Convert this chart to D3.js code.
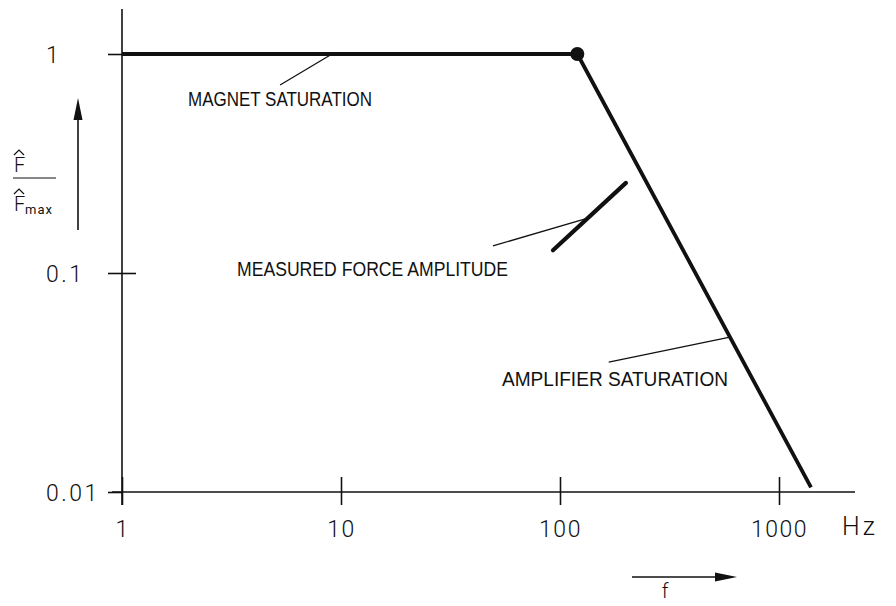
<!DOCTYPE html>
<html>
<head>
<meta charset="utf-8">
<script src="https://cdn.jsdelivr.net/npm/d3@7"></script>
<style>
  body { margin: 0; background: #fff; }
  svg { display: block; }
</style>
</head>
<body>
<svg id="chart" width="896" height="606"></svg>
<script>
// ---- data -------------------------------------------------------------
const freqTicks = [1, 10, 100, 1000];
const freqTickLabels = ["1", "10", "100", "1000"];
const forceTicks = [1, 0.1, 0.01];
const forceTickLabels = ["1", "0.1", "0.01"];

// force limit: magnet saturation plateau, then amplifier saturation roll-off
const limitFreq = [1, 120, 1400];
const limitForce = [1, 1, 0.0105];

// corner of the limit curve
const cornerFreq = [120];
const cornerForce = [1];

// measured force amplitude
const measuredFreq = [92.9, 200];
const measuredForce = [0.127, 0.258];

// annotation texts and the points their leader lines join (frequency, force)
const noteTexts = ["MAGNET SATURATION", "MEASURED FORCE AMPLITUDE", "AMPLIFIER SATURATION"];
const noteLeaderFreq = [[9.1, 5.27], [134, 49.4], [597, 167]];
const noteLeaderForce = [[1, 0.722], [0.178, 0.133], [0.051, 0.0392]];

// ---- layout -----------------------------------------------------------
const svg = d3.select("#chart");
const ink = "#111";

const x = d3.scaleLog().domain([1, 1000]).range([122, 779]);
const y = d3.scaleLog().domain([0.01, 1]).range([492, 54]);

const noteLayout = [
  { x: 188, y: 106, w: 184 },
  { x: 237, y: 276, w: 271 },
  { x: 502, y: 386, w: 226 }
];

const digitFont = "Roboto, 'DejaVu Sans', sans-serif";
const labelFont = "'Liberation Sans', Arial, sans-serif";

// ---- axes -------------------------------------------------------------
// axis lines
svg.append("line")
  .attr("x1", 112).attr("x2", 855)
  .attr("y1", y(0.01)).attr("y2", y(0.01))
  .attr("stroke", ink).attr("stroke-width", 1.6);
svg.append("line")
  .attr("x1", x(1)).attr("x2", x(1))
  .attr("y1", 9).attr("y2", 505)
  .attr("stroke", ink).attr("stroke-width", 1.6);

// x axis ticks crossing the axis line
const xAxis = d3.axisBottom(x)
  .tickValues(freqTicks)
  .tickSize(13)
  .tickFormat((d, i) => freqTickLabels[i]);
const gx = svg.append("g")
  .attr("transform", `translate(0,${y(0.01)})`)
  .call(xAxis);
gx.select(".domain").remove();
gx.selectAll(".tick line")
  .attr("y1", -15).attr("y2", 13)
  .attr("stroke", ink).attr("stroke-width", 1.6);
gx.selectAll(".tick text")
  .attr("y", 45).attr("dy", null)
  .attr("fill", ink)
  .style("font-family", digitFont)
  .style("font-weight", 300)
  .style("font-size", "23px")
  .style("letter-spacing", "1.5px");

// y axis ticks, labels left-aligned
const yAxis = d3.axisLeft(y)
  .tickValues(forceTicks)
  .tickSize(13)
  .tickFormat((d, i) => forceTickLabels[i]);
const gy = svg.append("g")
  .attr("transform", `translate(${x(1)},0)`)
  .call(yAxis);
gy.select(".domain").remove();
gy.selectAll(".tick line")
  .attr("x1", -14).attr("x2", d => d === 0.1 ? 14 : 0)
  .attr("stroke", ink).attr("stroke-width", 1.6);
gy.selectAll(".tick text")
  .attr("x", -76).attr("dy", "0.36em")
  .attr("text-anchor", "start")
  .attr("fill", ink)
  .style("font-family", digitFont)
  .style("font-weight", 300)
  .style("font-size", "23px")
  .style("letter-spacing", "2.5px");

// unit
svg.append("text")
  .attr("x", 842).attr("y", 535)
  .attr("fill", ink)
  .style("font-family", digitFont)
  .style("font-weight", 300)
  .style("font-size", "25px")
  .style("letter-spacing", "3px")
  .text("Hz");

// ---- axis titles ------------------------------------------------------
// F̂ / F̂max
const yTitle = svg.append("g");
yTitle.append("text")
  .attr("x", 14).attr("y", 172)
  .attr("fill", ink)
  .style("font-family", digitFont).style("font-weight", 300)
  .style("font-size", "20px")
  .text("F");
yTitle.append("path")
  .attr("d", "M14,155 L19,150 L24,155")
  .attr("fill", "none").attr("stroke", ink).attr("stroke-width", 1.2);
yTitle.append("line")
  .attr("x1", 13).attr("x2", 56).attr("y1", 178).attr("y2", 178)
  .attr("stroke", ink).attr("stroke-width", 1.2);
yTitle.append("text")
  .attr("x", 14).attr("y", 211)
  .attr("fill", ink)
  .style("font-family", digitFont).style("font-weight", 300)
  .style("font-size", "20px")
  .text("F");
yTitle.append("path")
  .attr("d", "M14,194 L19,189 L24,194")
  .attr("fill", "none").attr("stroke", ink).attr("stroke-width", 1.2);
yTitle.append("text")
  .attr("x", 25).attr("y", 214)
  .attr("fill", ink)
  .style("font-family", digitFont).style("font-weight", 400)
  .style("font-size", "13px")
  .style("letter-spacing", "1px")
  .text("max");

// upward arrow beside the force title
svg.append("line")
  .attr("x1", 78).attr("x2", 78).attr("y1", 230).attr("y2", 115)
  .attr("stroke", ink).attr("stroke-width", 1.6);
svg.append("path")
  .attr("d", "M78,98 L82.5,120 L73.5,120 Z")
  .attr("fill", ink);

// rightward arrow with f
svg.append("line")
  .attr("x1", 632).attr("x2", 720).attr("y1", 577).attr("y2", 577)
  .attr("stroke", ink).attr("stroke-width", 1.6);
svg.append("path")
  .attr("d", "M737,577 L715,572.5 L715,581.5 Z")
  .attr("fill", ink);
svg.append("text")
  .attr("x", 665).attr("y", 598)
  .attr("text-anchor", "middle")
  .attr("fill", ink)
  .style("font-family", digitFont).style("font-weight", 300)
  .style("font-size", "20px")
  .text("f");

// ---- marks ------------------------------------------------------------
const line = d3.line().x(d => x(d[0])).y(d => y(d[1]));

svg.append("path")
  .datum(limitFreq.map((f, i) => [f, limitForce[i]]))
  .attr("d", line)
  .attr("fill", "none")
  .attr("stroke", ink)
  .attr("stroke-width", 3.8)
  .attr("stroke-linejoin", "round");

svg.selectAll("circle.corner")
  .data(cornerFreq.map((f, i) => [f, cornerForce[i]]))
  .join("circle")
  .attr("class", "corner")
  .attr("cx", d => x(d[0])).attr("cy", d => y(d[1]))
  .attr("r", 7)
  .attr("fill", ink);

svg.append("path")
  .datum(measuredFreq.map((f, i) => [f, measuredForce[i]]))
  .attr("d", line)
  .attr("fill", "none")
  .attr("stroke", ink)
  .attr("stroke-width", 4.2)
  .attr("stroke-linecap", "round");

// ---- annotations ------------------------------------------------------
noteTexts.forEach((t, i) => {
  const pts = noteLeaderFreq[i].map((f, j) => [f, noteLeaderForce[i][j]]);
  svg.append("path")
    .datum(pts)
    .attr("d", line)
    .attr("fill", "none")
    .attr("stroke", ink)
    .attr("stroke-width", 1.3);
  svg.append("text")
    .attr("x", noteLayout[i].x).attr("y", noteLayout[i].y)
    .attr("textLength", noteLayout[i].w)
    .attr("lengthAdjust", "spacingAndGlyphs")
    .attr("fill", ink)
    .style("font-family", labelFont)
    .style("font-size", "20px")
    .text(t);
});
</script>
</body>
</html>
